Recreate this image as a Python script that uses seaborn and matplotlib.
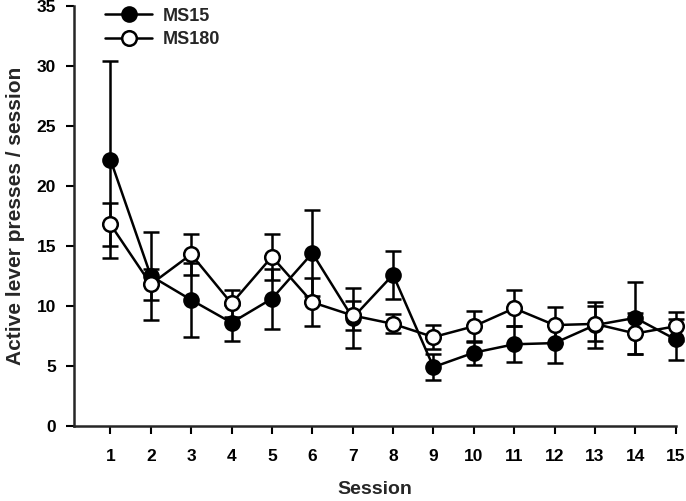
import numpy as np
import pandas as pd
import matplotlib
matplotlib.use('Agg')
import matplotlib.pyplot as plt
import seaborn as sns

sessions = list(range(1, 16))
ms15_mean = [22.2, 12.5, 10.5, 8.6, 10.6, 14.4, 9.0, 12.6, 4.9, 6.1, 6.8, 6.9, 8.4, 9.0, 7.2]
ms15_err = [8.2, 3.7, 3.1, 1.5, 2.5, 3.6, 2.5, 2.0, 1.1, 1.0, 1.5, 1.7, 1.9, 3.0, 1.7]
ms180_mean = [16.8, 11.8, 14.3, 10.2, 14.1, 10.3, 9.2, 8.5, 7.4, 8.3, 9.8, 8.4, 8.5, 7.7, 8.3]
ms180_err = [1.8, 1.3, 1.7, 1.1, 1.9, 2.0, 1.2, 0.8, 1.0, 1.3, 1.5, 1.5, 1.45, 1.7, 1.2]

sns.set_style('ticks')
plt.rcParams['font.family'] = ['Liberation Sans', 'DejaVu Sans']
plt.rcParams['font.weight'] = 'bold'

df15 = pd.DataFrame({'session': sessions, 'mean': ms15_mean, 'err': ms15_err})
df180 = pd.DataFrame({'session': sessions, 'mean': ms180_mean, 'err': ms180_err})

fig = plt.figure(figsize=(6.86, 5.01), dpi=100)
ax = fig.add_axes([0.108, 0.150, 0.877, 0.838])

# error bars first, circles on top
for d in (df15, df180):
    ax.errorbar(d['session'], d['mean'], yerr=d['err'], fmt='none', ecolor='black',
                elinewidth=1.8, capsize=5.5, capthick=1.8, zorder=1, clip_on=False)

sns.lineplot(data=df15, x='session', y='mean', ax=ax, color='black', lw=1.8,
             marker='o', markersize=10.5, markerfacecolor='black', markeredgecolor='black',
             markeredgewidth=1.5, label='MS15', zorder=2, clip_on=False)
sns.lineplot(data=df180, x='session', y='mean', ax=ax, color='black', lw=1.8,
             marker='o', markersize=10.5, markerfacecolor='white', markeredgecolor='black',
             markeredgewidth=1.8, label='MS180', zorder=3, clip_on=False)

ax.set_xlim(0.1, 15)
ax.set_ylim(0, 35)
ax.set_xticks(sessions)
ax.set_yticks(range(0, 36, 5))
ax.tick_params(direction='out', length=6, width=1.5, labelsize=12.5, colors='black')
ax.tick_params(axis='x', pad=11)
ax.tick_params(axis='y', pad=7)
for s in ('left', 'bottom'):
    ax.spines[s].set_linewidth(1.8)
sns.despine(ax=ax)

ax.set_xlabel('Session', fontsize=14, fontweight='bold', labelpad=12)
ax.set_ylabel('Active lever presses / session', fontsize=15, fontweight='bold', labelpad=8)

ax.legend(loc='upper left', bbox_to_anchor=(0.025, 1.035), frameon=False, fontsize=13,
          handlelength=2.6, labelspacing=0.35, handletextpad=0.6)

fig.savefig('out.png', dpi=100)
